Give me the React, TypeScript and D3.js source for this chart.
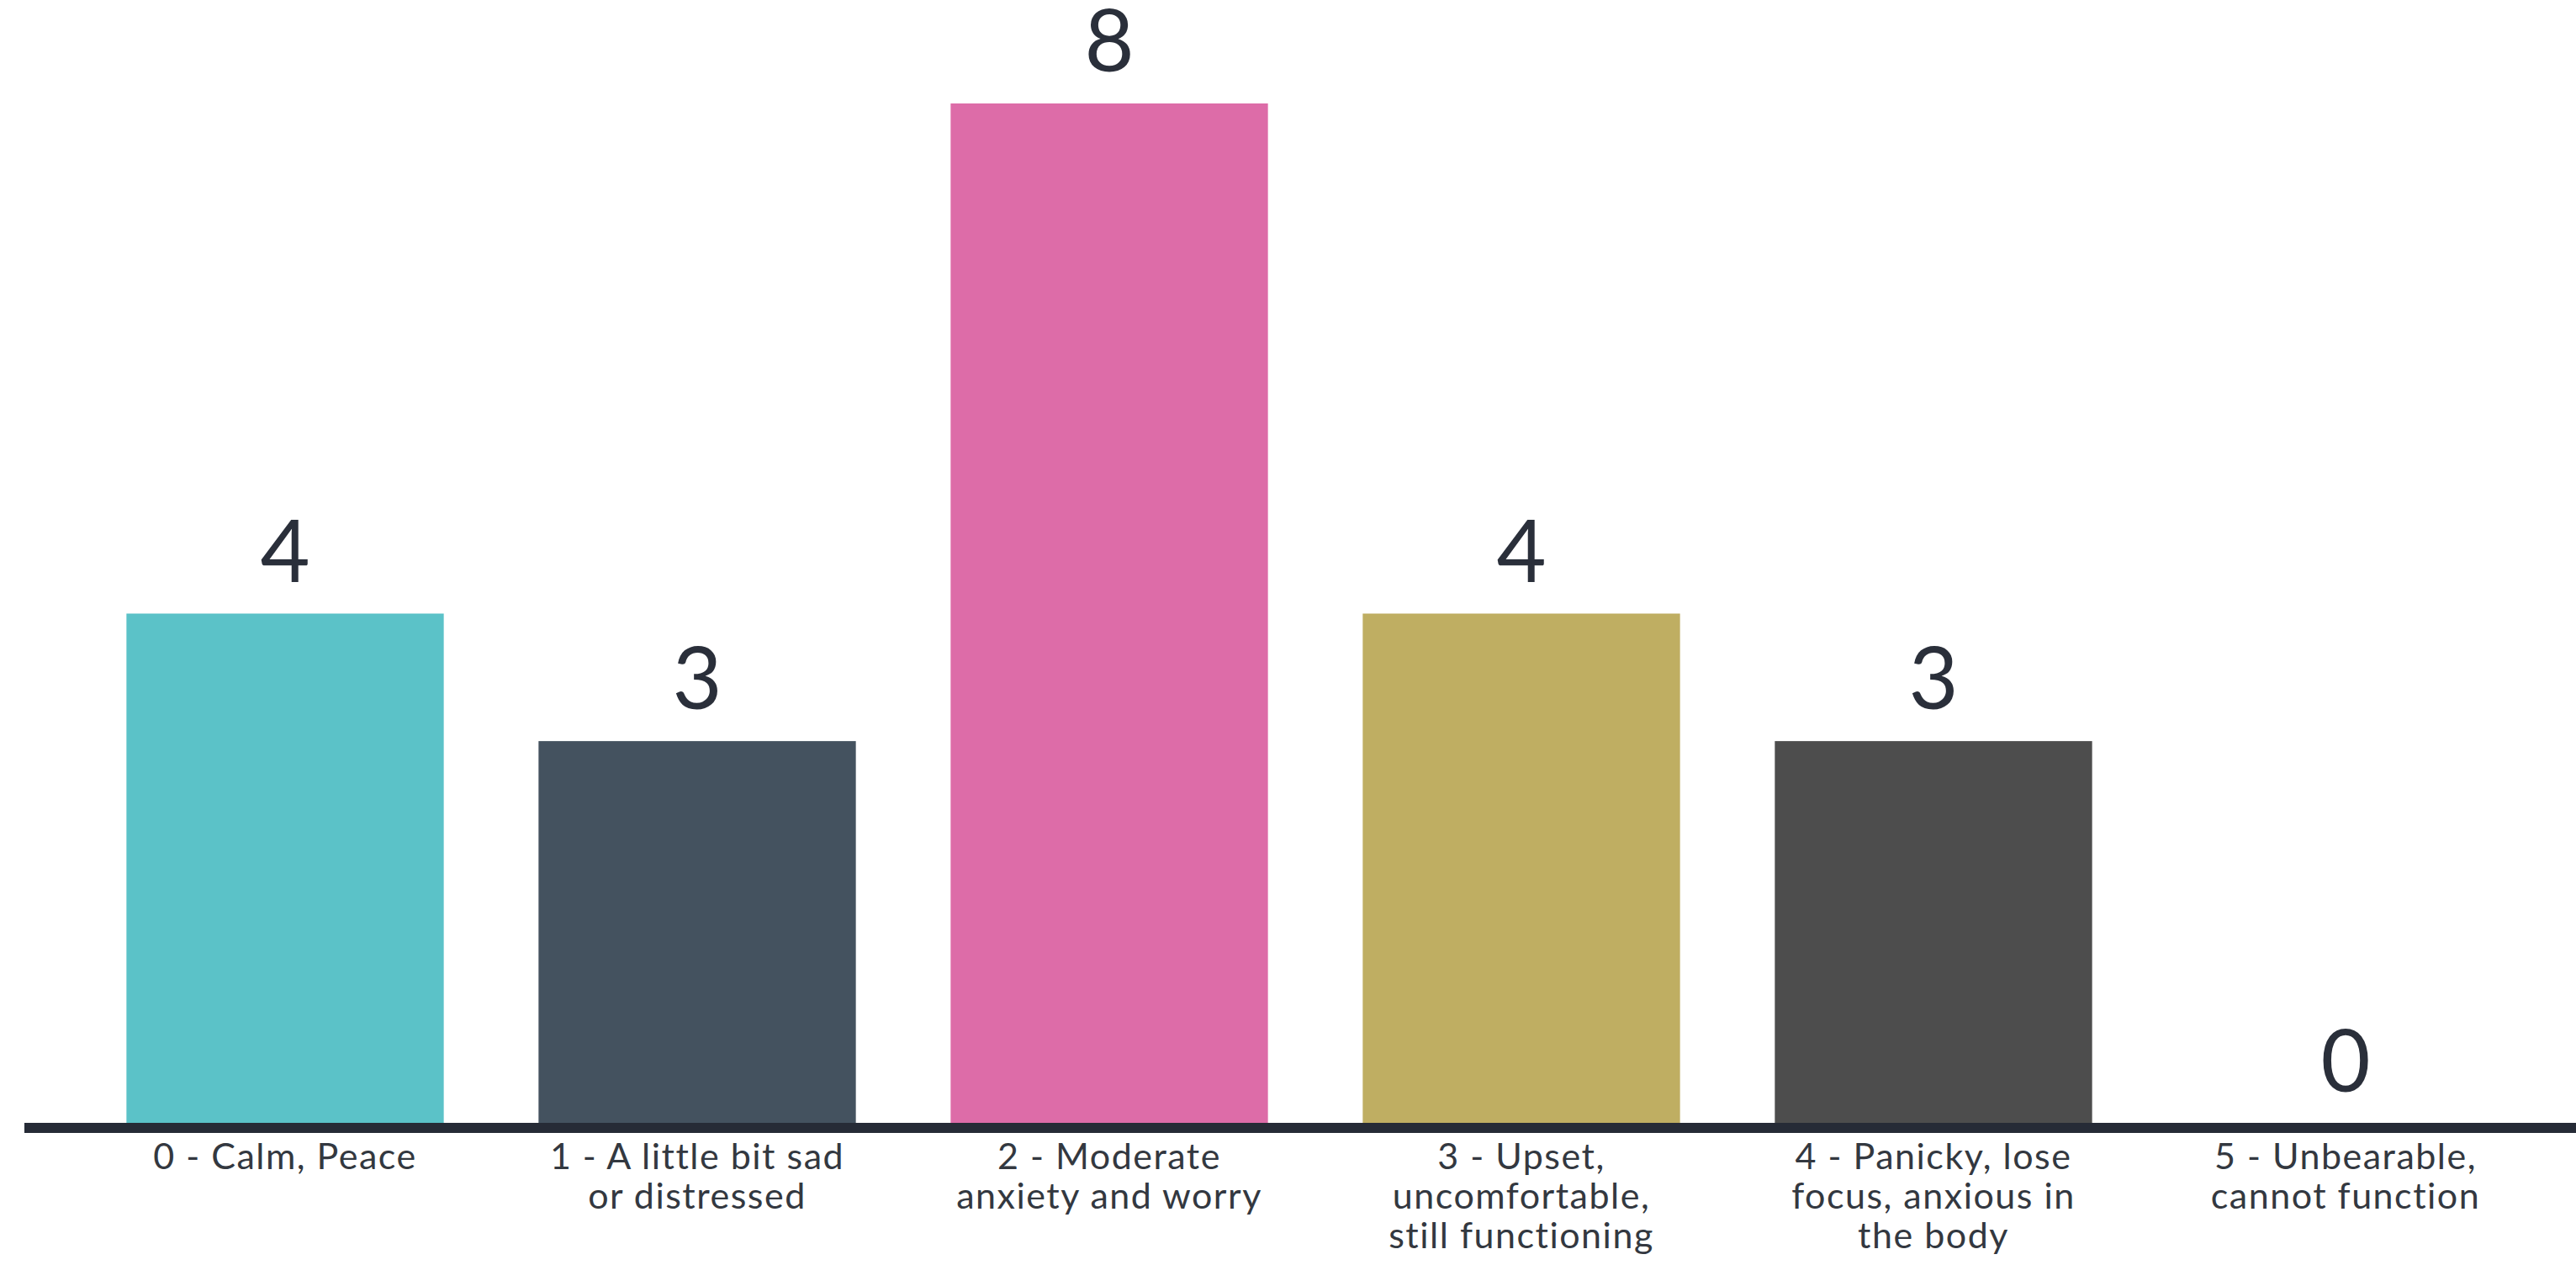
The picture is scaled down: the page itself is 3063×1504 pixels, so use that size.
import React, { useEffect } from "react";
import * as d3 from "d3";

const categories = ["0", "1", "2", "3", "4", "5"];
const values = [4, 3, 8, 4, 3, 0];
const labelLines = [
  ["0 - Calm, Peace"],
  ["1 - A little bit sad", "or distressed"],
  ["2 - Moderate", "anxiety and worry"],
  ["3 - Upset,", "uncomfortable,", "still functioning"],
  ["4 - Panicky, lose", "focus, anxious in", "the body"],
  ["5 - Unbearable,", "cannot function"],
];
const colors = ["#5bc2c8", "#44525f", "#dd6ca8", "#bfae62", "#4d4d4d", "#888888"];

const W = 3063;
const H = 1504;
const FONT = "Lato, 'Noto Sans', sans-serif";

export default function App() {
  useEffect(() => {
    document.body.style.margin = "0";
  }, []);

  const x = d3
    .scaleBand<string>()
    .domain(categories)
    .range([94, 3034])
    .paddingInner(0.23)
    .paddingOuter(0.115);
  const y = d3.scaleLinear().domain([0, 8]).range([1336, 123]);

  return (
    <svg width={W} height={H} style={{ display: "block", background: "#ffffff" }}>
      {values.map((v, i) => (
        <rect
          key={"b" + i}
          x={x(categories[i])}
          y={y(v)}
          width={x.bandwidth()}
          height={y(0) - y(v)}
          fill={colors[i]}
        />
      ))}
      <line x1={29} x2={W} y1={1341} y2={1341} stroke="#262b36" strokeWidth={12} />
      {values.map((v, i) => (
        <text
          key={"v" + i}
          x={(x(categories[i]) as number) + x.bandwidth() / 2}
          y={y(v) - 38}
          textAnchor="middle"
          fontFamily={FONT}
          fontSize={102}
          fill="#2a2f3a"
        >
          {v}
        </text>
      ))}
      {labelLines.map((lines, i) => (
        <text
          key={"l" + i}
          textAnchor="middle"
          fontFamily={FONT}
          fontSize={43}
          letterSpacing={1.5}
          fill="#333840"
        >
          {lines.map((ln, j) => (
            <tspan key={j} x={(x(categories[i]) as number) + x.bandwidth() / 2} y={1390 + j * 47}>
              {ln}
            </tspan>
          ))}
        </text>
      ))}
    </svg>
  );
}
